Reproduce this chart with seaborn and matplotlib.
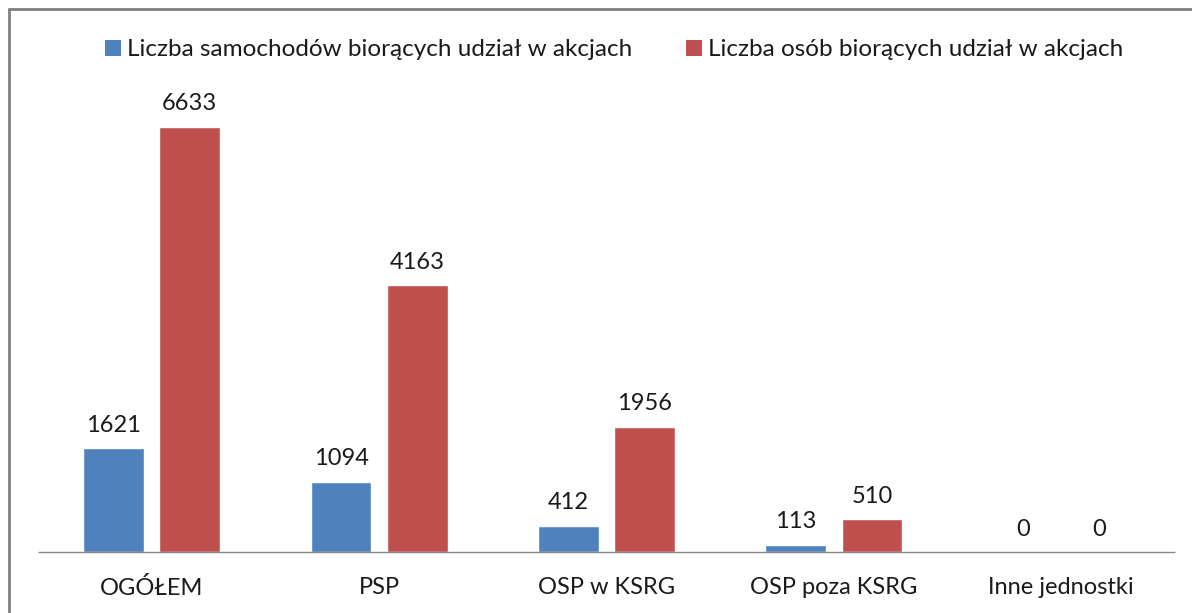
import numpy as np
import pandas as pd
import matplotlib
matplotlib.use("Agg")
import matplotlib.pyplot as plt
import seaborn as sns
from matplotlib.lines import Line2D
from matplotlib.patches import Patch

categories = ["OGÓŁEM", "PSP", "OSP w KSRG", "OSP poza KSRG", "Inne jednostki"]
series_names = ["Liczba samochodów biorących udział w akcjach",
                "Liczba osób biorących udział w akcjach"]
cars = [1621, 1094, 412, 113, 0]
people = [6633, 4163, 1956, 510, 0]
colors = ["#4F81BD", "#C0504D"]

df = pd.DataFrame({
    "kategoria": categories * 2,
    "seria": [series_names[0]] * len(categories) + [series_names[1]] * len(categories),
    "wartosc": cars + people,
})

sns.set_theme(style="white")
plt.rcParams["font.family"] = ["Lato", "DejaVu Sans"]
plt.rcParams["text.color"] = "#1a1a1a"

W, H = 1192, 613
FS = 17
fig = plt.figure(figsize=(W / 100, H / 100), dpi=100)
ax = fig.add_axes([38 / W, (H - 552) / H, (1175 - 38) / W, (552 - 95) / H])

sns.barplot(data=df, x="kategoria", y="wartosc", hue="seria", order=categories,
            hue_order=series_names, palette=colors, width=0.67, gap=0.2,
            saturation=1, legend=False, ax=ax)

ax.set_ylim(0, 6633 * (552 - 95) / (552 - 127))
ax.set_xlim(-0.5, len(categories) - 0.5)
for c in ax.containers:
    ax.bar_label(c, fmt="%d", padding=9, fontsize=FS, color="#1a1a1a")

ax.set_xlabel("")
ax.set_ylabel("")
ax.set_yticks([])
ax.tick_params(axis="x", length=0, pad=18, labelsize=FS, labelcolor="#1a1a1a")
sns.despine(ax=ax, left=True, bottom=True)
# category axis line
ax.hlines(0, -0.5, len(categories) - 0.5, color="#868686", lw=1, clip_on=False, zorder=3)

handles = [Patch(facecolor=col, edgecolor="none") for col in colors]
fig.legend(handles, series_names, loc="center", bbox_to_anchor=(614 / W, 1 - 50 / H),
           ncol=2, frameon=False, fontsize=17.5, handlelength=0.65, handleheight=0.65,
           handletextpad=0.25, columnspacing=2.2)

# outer chart border (only top and left visible in the crop)
fig.add_artist(Line2D([9 / W, 9 / W], [0, 1 - 9 / H], color="#808080", lw=2,
                      transform=fig.transFigure))
fig.add_artist(Line2D([9 / W, 1], [1 - 9 / H, 1 - 9 / H], color="#808080", lw=2,
                      transform=fig.transFigure))

fig.savefig("out.png", dpi=100)
